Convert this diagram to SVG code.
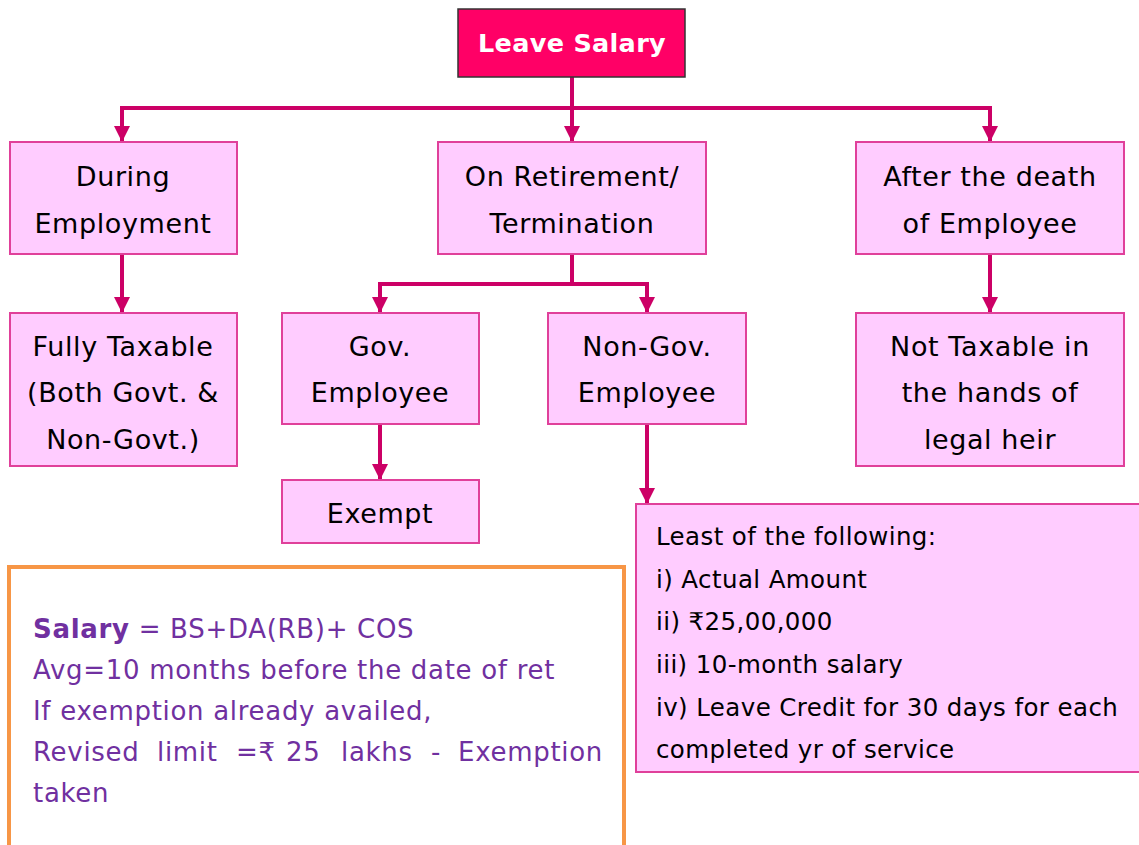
<svg xmlns="http://www.w3.org/2000/svg" width="1139" height="845" viewBox="0 0 1139 845">
<defs>
<marker id="ah" viewBox="0 0 10 10" refX="10" refY="5" markerWidth="4" markerHeight="4" markerUnits="strokeWidth" orient="auto">
<path d="M0,0 L10,5 L0,10 z" fill="#CC0066"/>
</marker>
<style>
.box{fill:#FFCCFF;stroke:#E0409A;stroke-width:2}
.t{font-family:"DejaVu Sans","Open Sans",sans-serif;font-size:27px;letter-spacing:0.6px;fill:#000;text-anchor:middle}
.l{font-family:"DejaVu Sans","Open Sans",sans-serif;font-size:24.5px;letter-spacing:0.4px;fill:#000}
.p{font-family:"DejaVu Sans","Open Sans",sans-serif;font-size:26px;letter-spacing:0.7px;fill:#7030A0}
.c{fill:none;stroke:#CC0066;stroke-width:4}
.bus{fill:none;stroke:#CC0066;stroke-width:4;stroke-linecap:square}
</style>
</defs>
<rect width="1139" height="845" fill="#fff"/>
<g id="connectors">
<path class="c" d="M572,77 V108"/>
<path class="bus" d="M122,108 H990"/>
<path class="c" d="M122,108 V142" marker-end="url(#ah)"/>
<path class="c" d="M572,108 V142" marker-end="url(#ah)"/>
<path class="c" d="M990,108 V142" marker-end="url(#ah)"/>
<path class="c" d="M122,254 V313" marker-end="url(#ah)"/>
<path class="c" d="M990,254 V313" marker-end="url(#ah)"/>
<path class="c" d="M572,254 V284"/>
<path class="bus" d="M380,284 H647"/>
<path class="c" d="M380,284 V313" marker-end="url(#ah)"/>
<path class="c" d="M647,284 V313" marker-end="url(#ah)"/>
<path class="c" d="M380,424 V480" marker-end="url(#ah)"/>
<path class="c" d="M647,424 V504" marker-end="url(#ah)"/>
</g>
<g id="root">
<rect x="458" y="9" width="227" height="68" fill="#FF0066" stroke="#333" stroke-width="1.5"/>
<text x="572" y="52" class="t" style="fill:#fff;font-weight:bold;font-size:25.5px;letter-spacing:0.3px">Leave Salary</text>
</g>
<g id="during">
<rect class="box" x="10" y="142" width="227" height="112"/>
<text class="t" x="123" y="186">During</text>
<text class="t" x="123" y="233">Employment</text>
</g>
<g id="retirement">
<rect class="box" x="438" y="142" width="268" height="112"/>
<text class="t" x="572" y="186">On Retirement/</text>
<text class="t" x="572" y="233">Termination</text>
</g>
<g id="death">
<rect class="box" x="856" y="142" width="268" height="112"/>
<text class="t" x="990" y="186">After the death</text>
<text class="t" x="990" y="233">of Employee</text>
</g>
<g id="fully">
<rect class="box" x="10" y="313" width="227" height="153"/>
<text class="t" x="123" y="356">Fully Taxable</text>
<text class="t" x="123" y="402">(Both Govt. &amp;</text>
<text class="t" x="123" y="449">Non-Govt.)</text>
</g>
<g id="gov">
<rect class="box" x="282" y="313" width="197" height="111"/>
<text class="t" x="380" y="356">Gov.</text>
<text class="t" x="380" y="402">Employee</text>
</g>
<g id="nongov">
<rect class="box" x="548" y="313" width="198" height="111"/>
<text class="t" x="647" y="356">Non-Gov.</text>
<text class="t" x="647" y="402">Employee</text>
</g>
<g id="nottaxable">
<rect class="box" x="856" y="313" width="268" height="153"/>
<text class="t" x="990" y="356">Not Taxable in</text>
<text class="t" x="990" y="402">the hands of</text>
<text class="t" x="990" y="449">legal heir</text>
</g>
<g id="exempt">
<rect class="box" x="282" y="480" width="197" height="63"/>
<text class="t" x="380" y="523">Exempt</text>
</g>
<g id="least">
<rect class="box" x="636" y="504" width="510" height="268"/>
<text class="l" x="656" y="545">Least of the following:</text>
<text class="l" x="656" y="588">i) Actual Amount</text>
<text class="l" x="656" y="630">ii) ₹25,00,000</text>
<text class="l" x="656" y="673">iii) 10-month salary</text>
<text class="l" x="656" y="716">iv) Leave Credit for 30 days for each</text>
<text class="l" x="656" y="758">completed yr of service</text>
</g>
<g id="note">
<rect x="9" y="567" width="615" height="290" fill="#fff" stroke="#F79646" stroke-width="4"/>
<text class="p" x="33" y="638"><tspan font-weight="bold">Salary</tspan> = BS+DA(RB)+ COS</text>
<text class="p" x="33" y="679">Avg=10 months before the date of ret</text>
<text class="p" x="33" y="720">If exemption already availed,</text>
<text class="p" y="761"><tspan x="33">Revised</tspan><tspan x="157">limit</tspan><tspan x="236">=₹</tspan><tspan x="286">25</tspan><tspan x="341">lakhs</tspan><tspan x="431">-</tspan><tspan x="603" text-anchor="end">Exemption</tspan></text>
<text class="p" x="33" y="802">taken</text>
</g>
</svg>
